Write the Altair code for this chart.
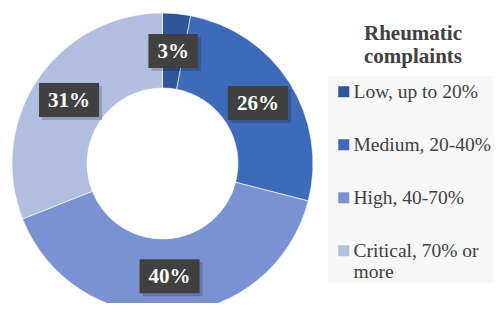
import altair as alt
import pandas as pd

categories = ["Low, up to 20%", "Medium, 20-40%", "High, 40-70%", "Critical, 70% or more"]
values = [3, 26, 40, 31]
colors = ["#2F5597", "#3D6AB9", "#7A92D1", "#B2BEE0"]

df = pd.DataFrame({"category": categories, "value": values, "order": list(range(len(values)))})

R_IN, R_OUT, R_LAB = 75.5, 150.5, 113
W = 301
H = 290
C = W / 2
SERIF = "Liberation Serif"
FS = 21

xs = alt.Scale(domain=[-C, W - C], nice=False, zero=False)
ys = alt.Scale(domain=[C - H, C], nice=False, zero=False)

base = alt.Chart(df)

arc = base.mark_arc(innerRadius=R_IN, outerRadius=R_OUT, stroke="white", strokeWidth=0.6).encode(
    theta=alt.Theta("value:Q", stack=True),
    order=alt.Order("order:Q"),
    x=alt.value(C),
    y=alt.value(C),
    color=alt.Color(
        "category:N",
        scale=alt.Scale(domain=categories, range=colors),
        sort=categories,
        legend=alt.Legend(
            title=["Rheumatic", "complaints"],
            orient="none", legendX=322, legendY=10,
            titleFont=SERIF, titleFontSize=FS, titleFontWeight="bold", titleColor="#404040",
            titleAlign="center", titleAnchor="middle", titleLineHeight=23, titlePadding=15,
            labelFont=SERIF, labelFontSize=19.5, labelColor="#404040",
            symbolType="square", symbolSize=121, symbolStrokeWidth=0, symbolOpacity=1,
            rowPadding=32, labelOffset=0, labelLimit=300,
            labelExpr="datum.label == 'Critical, 70% or more' ? ['Critical, 70% or', 'more'] : datum.label",
        ),
    ),
)

lab = (
    base.transform_window(cum="sum(value)", sort=[alt.SortField("order")], frame=[None, 0])
    .transform_joinaggregate(total="sum(value)")
    .transform_calculate(
        mid="(datum.cum - datum.value / 2) / datum.total * 2 * PI",
        label="datum.value + '%'",
        bw=f"{FS} * (0.5 * length(toString(datum.value)) + 1) + 18",
    )
    .transform_calculate(lx=f"{R_LAB} * sin(datum.mid)", ly=f"{R_LAB} * cos(datum.mid)")
    .transform_calculate(
        x1="datum.lx - datum.bw / 2", x2="datum.lx + datum.bw / 2",
        y1="datum.ly - 17", y2="datum.ly + 17",
        sx1="datum.lx - datum.bw / 2 + 3", sx2="datum.lx + datum.bw / 2 + 3",
        sy1="datum.ly - 20", sy2="datum.ly + 14",
    )
)

shadow = lab.mark_rect(color="#000000", opacity=0.18).encode(
    x=alt.X("sx1:Q", scale=xs, axis=None), x2="sx2:Q",
    y=alt.Y("sy1:Q", scale=ys, axis=None), y2="sy2:Q",
)
box = lab.mark_rect(color="#404040").encode(
    x=alt.X("x1:Q", scale=xs, axis=None), x2="x2:Q",
    y=alt.Y("y1:Q", scale=ys, axis=None), y2="y2:Q",
)
text = lab.mark_text(font=SERIF, fontSize=FS, fontWeight="bold", color="white", baseline="middle", dy=1).encode(
    x=alt.X("lx:Q", scale=xs, axis=None),
    y=alt.Y("ly:Q", scale=ys, axis=None),
    text="label:N",
)

bg = alt.Chart(pd.DataFrame({"a": [0]})).mark_rect(color="#F8F8F8").encode(
    x=alt.value(316), x2=alt.value(495), y=alt.value(63), y2=alt.value(270)
)

chart = (
    alt.layer(bg, arc, shadow, box, text)
    .properties(
        width=W, height=H,
        padding={"left": 4, "top": 5, "right": 181, "bottom": 0},
        autosize=alt.AutoSizeParams(type="none"),
    )
    .configure_view(stroke=None)
)

chart.save("out.html", embed_options={"renderer": "svg", "actions": False})
